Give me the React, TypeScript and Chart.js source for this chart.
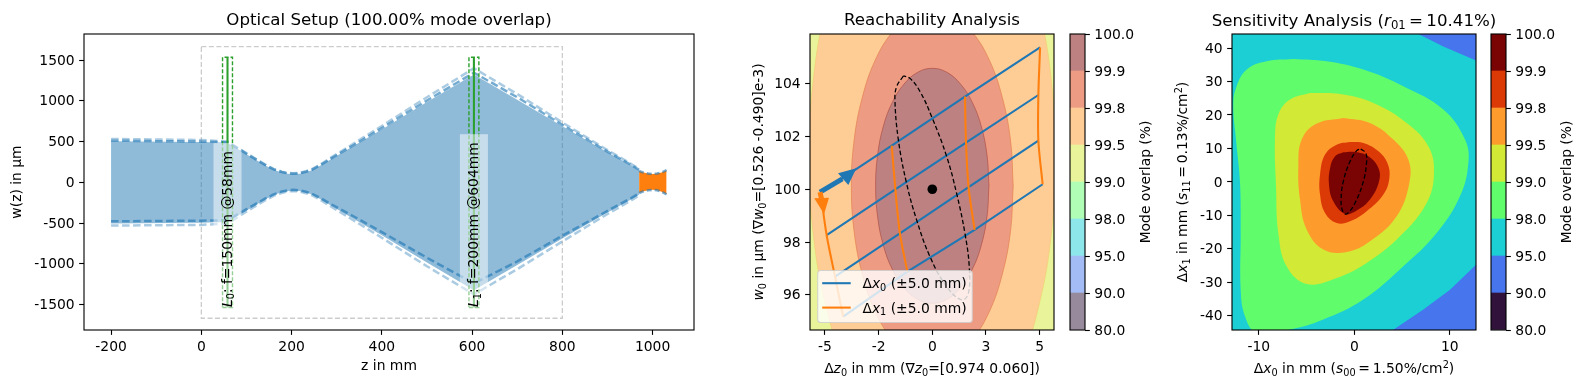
import React, { useEffect, useRef } from "react";
import { Chart, registerables } from "chart.js";

Chart.register(...registerables);

const FONT = '"DejaVu Sans"';
const TICK = 13.89;
const TITLE = 16.67;
Chart.defaults.font.family = FONT;
Chart.defaults.font.size = TICK;
Chart.defaults.color = "#000";

// ---------- Optical setup ----------
const beamZ = [-200, 0, 58, 88, 115, 141, 160, 178, 192, 204, 218, 232, 245, 265, 289, 340, 400, 500, 604, 700, 800, 900, 950, 970];
const beamW = [505, 495, 487, 385, 295, 210, 155, 122, 105, 100, 107, 125, 150, 210, 290, 455, 650, 985, 1325, 1015, 690, 370, 215, 150];
const beamNeg = [-505, -495, -487, -385, -295, -210, -155, -122, -105, -100, -107, -125, -150, -210, -290, -455, -650, -985, -1325, -1015, -690, -370, -215, -150];
const upperDark = [512, 500, 492, 392, 300, 215, 160, 127, 110, 105, 112, 130, 155, 215, 297, 465, 665, 1005, 1346, 1045, 705, 378, 222, 155];
const upperLight = [533, 520, 500, 400, 308, 222, 165, 132, 115, 112, 118, 137, 162, 225, 310, 485, 692, 1045, 1400, 1085, 735, 395, 235, 165];
const lowerDark = [-478, -470, -465, -368, -282, -200, -148, -113, -97, -92, -98, -115, -138, -195, -272, -425, -610, -925, -1240, -970, -655, -350, -200, -135];
const lowerLight = [-530, -522, -505, -400, -308, -222, -165, -130, -112, -106, -113, -133, -158, -220, -303, -475, -680, -1030, -1375, -1065, -725, -388, -230, -160];
const spotZ = [970, 980, 990, 1000, 1010, 1020, 1031];
const spotUpper = [140, 120, 108, 103, 108, 122, 150];
const spotLower = [-130, -110, -98, -92, -98, -115, -146];
const lens0 = 58;
const lens1 = 604;
const lensHalfWidth = 11;
const lensHalfHeight = 1535;
const rangeBox: number[][] = [[0, 1666], [800, 1666], [800, -1668], [0, -1668], [0, 1666]];
const setupXTicks = [-200, 0, 200, 400, 600, 800, 1000];
const setupYTicks = [-1500, -1000, -500, 0, 500, 1000, 1500];

// ---------- Colour levels ----------
const levels = [80, 90, 95, 98, 99, 99.5, 99.8, 99.9, 100];
const turbo = ["#30123b", "#4675ed", "#1bcfd4", "#61fc6c", "#d2e935", "#fe9b2d", "#db3a07", "#7a0403"];
const turboSoft = ["#988a9d", "#a3bcf6", "#8de7ea", "#b0feb6", "#e9f49a", "#fecd96", "#ed9c83", "#bd8181"];

// ---------- Reachability ----------
const reachYellow: number[][] = [[-7, 93], [7, 93], [7, 107], [-7, 107], [-7, 93]];
const reachOrange: number[][] = [[5.75, 101.22], [5.55, 104.11], [4.98, 106.81], [4.07, 109.12], [2.875, 110.89], [1.49, 112.01], [0, 112.39], [-1.49, 112.01], [-2.875, 110.89], [-4.07, 109.12], [-4.98, 106.81], [-5.55, 104.11], [-5.75, 101.22], [-5.55, 98.33], [-4.98, 95.64], [-4.07, 93.32], [-2.875, 91.55], [-1.49, 90.43], [0, 90.05], [1.49, 90.43], [2.875, 91.55], [4.07, 93.32], [4.98, 95.64], [5.55, 98.33], [5.75, 101.22]];
const reachRed: number[][] = [[3.77, 100.13], [3.64, 101.87], [3.26, 103.48], [2.67, 104.87], [1.885, 105.93], [0.98, 106.6], [0, 106.83], [-0.98, 106.6], [-1.885, 105.93], [-2.67, 104.87], [-3.26, 103.48], [-3.64, 101.87], [-3.77, 100.13], [-3.64, 98.39], [-3.26, 96.78], [-2.67, 95.39], [-1.885, 94.33], [-0.98, 93.66], [0, 93.43], [0.98, 93.66], [1.885, 94.33], [2.67, 95.39], [3.26, 96.78], [3.64, 98.39], [3.77, 100.13]];
const reachDark: number[][] = [[2.64, 100.13], [2.55, 101.28], [2.29, 102.36], [1.87, 103.28], [1.32, 103.98], [0.68, 104.43], [0, 104.58], [-0.68, 104.43], [-1.32, 103.98], [-1.87, 103.28], [-2.29, 102.36], [-2.55, 101.28], [-2.64, 100.13], [-2.55, 98.98], [-2.29, 97.9], [-1.87, 96.98], [-1.32, 96.28], [-0.68, 95.83], [0, 95.68], [0.68, 95.83], [1.32, 96.28], [1.87, 96.98], [2.29, 97.9], [2.55, 98.98], [2.64, 100.13]];
const reachEllipse: number[][] = [[-1.35, 104.29], [-1.66, 103.89], [-1.74, 103.38], [-1.58, 101.87], [-1.2, 100.23], [-0.73, 98.84], [-0.11, 97.45], [0.67, 96.31], [1.37, 95.81], [1.68, 96.06], [1.72, 97.07], [1.52, 98.33], [1.13, 99.85], [0.67, 101.24], [-0.03, 102.75], [-0.57, 103.7], [-1.04, 104.2], [-1.35, 104.29]];
const dx0Lines: number[][][] = [
  [[-5.2, 99.87], [-1.89, 101.65], [1.52, 103.51], [5.02, 105.37]],
  [[-4.92, 98.26], [-1.72, 100.0], [1.57, 101.77], [4.94, 103.57]],
  [[-4.53, 96.69], [-1.51, 98.33], [1.69, 100.08], [4.94, 101.84]],
  [[-4.15, 95.18], [-1.16, 96.88], [1.97, 98.46], [5.14, 100.19]],
];
const dx1Lines: number[][][] = [
  [[-5.2, 99.87], [-4.92, 98.26], [-4.53, 96.69], [-4.15, 95.18]],
  [[-1.89, 101.65], [-1.72, 100.0], [-1.51, 98.33], [-1.16, 96.88]],
  [[1.52, 103.51], [1.57, 101.77], [1.69, 100.08], [1.97, 98.46]],
  [[5.02, 105.37], [4.94, 103.57], [4.94, 101.84], [5.14, 100.19]],
];
const blueShaft: number[][] = [[-5.23, 99.89], [-4.19, 100.39]];
const blueHead: number[][] = [[-3.54, 100.8], [-4.39, 100.61], [-3.91, 100.16], [-3.54, 100.8]];
const orangeShaft: number[][] = [[-5.23, 99.89], [-5.15, 99.6]];
const orangeHead: number[][] = [[-5.04, 99.06], [-5.5, 99.66], [-4.81, 99.68], [-5.04, 99.06]];
const reachXTicks = [-5, -2.5, 0, 2.5, 5];
const reachXLabels = ["-5", "-2", "0", "3", "5"];
const reachYTicks = [96, 98, 100, 102, 104];

// ---------- Sensitivity ----------
const sensCyan: number[][] = [[-14, -46], [14, -46], [14, 46], [-14, 46], [-14, -46]];
const sensBlueTop: number[][] = [[6.7, 44.2], [9.32, 40.5], [12.77, 36.25], [14, 34.8], [14, 46], [6.7, 46], [6.7, 44.2]];
const sensBlueBottom: number[][] = [[4.08, -44.2], [7.23, -38.1], [10.02, -32.2], [12.77, -24.7], [14, -21], [14, -46], [4.08, -46], [4.08, -44.2]];
const sensGreen: number[][] = [[-6.39, 36.75], [-9.18, 36.06], [-11.27, 33.57], [-12.39, 28.09], [-12.67, 22.61], [-12.39, 12.65], [-11.97, -0.3], [-11.9, -15.24], [-11.9, -32.17], [-11.45, -40.14], [-10.23, -45.12], [-6.74, -44.12], [-3.25, -41.14], [0.94, -35.16], [5.13, -25.2], [8.62, -15.24], [11.06, -4.28], [11.94, 5.68], [11.59, 12.65], [9.32, 21.61], [5.13, 28.59], [0.94, 33.57], [-2.9, 36.06], [-6.39, 36.75]];
const sensYellow: number[][] = [[-4.64, 26.59], [-6.74, 24.6], [-7.96, 20.12], [-8.31, 12.65], [-8.2, -1.29], [-7.96, -15.24], [-7.09, -25.2], [-4.99, -30.48], [-1.85, -28.69], [1.29, -24.2], [4.78, -16.24], [7.57, -6.27], [8.34, 2.69], [7.75, 10.66], [5.48, 17.63], [1.99, 23.61], [-1.5, 26.29], [-4.64, 26.59]];
const sensOrange: number[][] = [[-1.15, 19.12], [-3.94, 17.43], [-5.51, 12.65], [-5.86, 4.68], [-5.69, -5.28], [-4.99, -14.24], [-3.25, -20.22], [-0.8, -20.92], [1.64, -17.73], [4.43, -10.26], [5.76, -0.3], [5.65, 6.67], [4.08, 12.65], [1.64, 17.63], [-1.15, 19.12]];
const sensRed: number[][] = [[-0.45, 11.94], [-1.85, 11.14], [-3.07, 8.16], [-3.59, 2.18], [-3.59, -3.79], [-3.07, -9.27], [-1.85, -12.26], [-0.45, -11.76], [1.29, -8.77], [3.04, -3.79], [3.67, 1.19], [3.46, 5.67], [2.52, 9.15], [0.95, 11.64], [-0.45, 11.94]];
const sensDark: number[][] = [[-1.15, 8.85], [-2.02, 7.66], [-2.54, 4.17], [-2.65, -0.81], [-2.2, -5.79], [-0.97, -9.57], [0.25, -8.57], [1.64, -5.29], [2.59, 0.19], [2.52, 4.17], [1.47, 7.66], [0.07, 8.95], [-1.15, 8.85]];
const sensEllipse: number[][] = [[0.67, 9.85], [1.19, 8.66], [1.29, 6.17], [0.95, 0.19], [0.07, -6.28], [-0.8, -9.57], [-1.22, -8.77], [-1.39, -5.29], [-1.15, 0.19], [-0.45, 6.17], [0.25, 9.35], [0.67, 9.85]];
const sensXTicks = [-10, 0, 10];
const sensYTicks = [-40, -30, -20, -10, 0, 10, 20, 30, 40];

// ---------- Rich text ----------
type Seg = { t: string; i?: boolean; sub?: boolean; sup?: boolean };
const T = (t: string): Seg => ({ t });
const I = (t: string): Seg => ({ t, i: true });
const S = (t: string): Seg => ({ t, sub: true });
const U = (t: string): Seg => ({ t, sup: true });

function segFont(s: Seg, size: number) {
  const sz = s.sub || s.sup ? size * 0.7 : size;
  return `${s.i ? "oblique " : ""}${sz}px ${FONT}`;
}
function richWidth(ctx: CanvasRenderingContext2D, segs: Seg[], size: number) {
  let w = 0;
  for (const s of segs) {
    ctx.font = segFont(s, size);
    w += ctx.measureText(s.t).width;
  }
  return w;
}
// Draws at the current origin: x is the left edge, y = 0 the vertical middle of the line.
function richAt(ctx: CanvasRenderingContext2D, segs: Seg[], size: number) {
  let x = 0;
  const base = size * 0.36;
  ctx.textBaseline = "alphabetic";
  ctx.textAlign = "left";
  ctx.fillStyle = "#000";
  for (const s of segs) {
    ctx.font = segFont(s, size);
    const dy = s.sub ? size * 0.2 : s.sup ? -size * 0.38 : 0;
    ctx.fillText(s.t, x, base + dy);
    x += ctx.measureText(s.t).width;
  }
}
function richCentered(ctx: CanvasRenderingContext2D, segs: Seg[], size: number, cx: number, cy: number, rotate = false) {
  const w = richWidth(ctx, segs, size);
  ctx.save();
  ctx.translate(cx, cy);
  if (rotate) ctx.rotate(-Math.PI / 2);
  ctx.translate(-w / 2, 0);
  richAt(ctx, segs, size);
  ctx.restore();
}

// ---------- Plugins ----------
const framePlugin = {
  id: "frame",
  afterDatasetsDraw(chart: any) {
    const { ctx, chartArea: a } = chart;
    ctx.save();
    ctx.strokeStyle = "#000";
    ctx.lineWidth = 1.11;
    ctx.strokeRect(a.left, a.top, a.right - a.left, a.bottom - a.top);
    ctx.restore();
  },
};

const labelsPlugin = (spec: { title?: Seg[]; xLabel?: Seg[]; yLabel?: Seg[]; yOff?: number }) => ({
  id: "labels",
  afterDraw(chart: any) {
    const { ctx, chartArea: a } = chart;
    const cx = (a.left + a.right) / 2;
    if (spec.title) richCentered(ctx, spec.title, TITLE, cx, 20);
    if (spec.xLabel) richCentered(ctx, spec.xLabel, TICK, cx, 368);
    if (spec.yLabel) richCentered(ctx, spec.yLabel, TICK, a.left + (spec.yOff ?? -50), 182, true);
  },
});

const lensText = [
  { z: lens0, w: -1530, segs: [I("L"), S("0"), T(": f=150mm @58mm")] },
  { z: lens1, w: -1530, segs: [I("L"), S("1"), T(": f=200mm @604mm")] },
];
const lensLabelPlugin = {
  id: "lensLabels",
  afterDatasetsDraw(chart: any) {
    const { ctx, scales } = chart;
    for (const l of lensText) {
      const px = scales.x.getPixelForValue(l.z);
      const py = scales.y.getPixelForValue(l.w);
      const w = richWidth(ctx, l.segs, TICK);
      ctx.save();
      ctx.fillStyle = "rgba(255,255,255,0.5)";
      ctx.fillRect(px - 14, py - w - 8, 28, w + 16);
      ctx.translate(px - 1, py);
      ctx.rotate(-Math.PI / 2);
      richAt(ctx, l.segs, TICK);
      ctx.restore();
    }
  },
};

const legendEntries = [
  { color: "#1f77b4", segs: [T("Δ"), I("x"), S("0"), T(" (±5.0 mm)")] },
  { color: "#ff7f0e", segs: [T("Δ"), I("x"), S("1"), T(" (±5.0 mm)")] },
];
const legendPlugin = {
  id: "reachLegend",
  afterDraw(chart: any) {
    const { ctx, chartArea: a } = chart;
    const x = a.left + 7.7;
    const y = a.bottom - 59.5;
    ctx.save();
    ctx.beginPath();
    ctx.roundRect(x, y, 154.6, 52, 3);
    ctx.fillStyle = "rgba(255,255,255,0.8)";
    ctx.fill();
    ctx.strokeStyle = "rgba(204,204,204,0.8)";
    ctx.lineWidth = 1.1;
    ctx.stroke();
    legendEntries.forEach((e, i) => {
      const ly = y + 12.7 + i * 24.4;
      ctx.strokeStyle = e.color;
      ctx.lineWidth = 2.08;
      ctx.beginPath();
      ctx.moveTo(x + 4.5, ly);
      ctx.lineTo(x + 33, ly);
      ctx.stroke();
      ctx.save();
      ctx.translate(x + 44.7, ly);
      richAt(ctx, e.segs, TICK);
      ctx.restore();
    });
    ctx.restore();
  },
};

// ---------- Dataset helpers ----------
const xy = (pairs: number[][]) => pairs.map(([x, y]) => ({ x, y }));
const zipXY = (xs: number[], ys: number[]) => xs.map((x, i) => ({ x, y: ys[i] }));
const path = (data: any[], color: string, width = 2.08, dash: number[] = [], tension = 0) => ({
  data, showLine: true, borderColor: color, borderWidth: width, borderDash: dash, tension, capBezierPoints: false,
  pointRadius: 0, fill: false,
});
const area = (pairs: number[][], color: string, tension = 0.4, edge = "transparent") => ({
  data: xy(pairs), showLine: true, borderColor: edge, borderWidth: edge === "transparent" ? 0 : 1,
  backgroundColor: color, fill: "shape", tension, capBezierPoints: false, pointRadius: 0,
});
// Paint order: first in the list is painted first.
const layered = (list: any[]) => list.map((d, i) => ({ ...d, order: list.length - i }));

function axisScale(min: number, max: number, ticks: number[], fit: any, labels?: string[], extra: any = {}, labelOffset = 0) {
  return {
    type: "linear", min, max,
    afterBuildTicks: (s: any) => { s.ticks = ticks.map((value) => ({ value })); },
    afterFit: fit,
    ticks: {
      autoSkip: false, maxRotation: 0, minRotation: 0, padding: 4.5, font: { size: TICK }, color: "#000", labelOffset,
      callback: (v: number, i: number) => (labels ? labels[i] : String(v)),
    },
    grid: { display: true, drawOnChartArea: false, drawTicks: true, tickLength: 4.86, tickColor: "#000", tickWidth: 1.11 },
    border: { display: false },
    ...extra,
  };
}
const baseOptions = (extra: any) => ({
  responsive: false, animation: false, events: [] as string[],
  ...extra,
});

// ---------- Panels ----------
const DASH = [7.5, 3.5];
const darkC = "rgba(31,119,180,0.62)";
const lightC = "rgba(31,119,180,0.38)";
const greenC = "#2ca02c";

const setupDatasets = layered([
  path(xy(rangeBox), "rgba(0,0,0,0.2)", 1.3, [5, 2.5]),
  { ...path(zipXY(beamZ, beamW), "transparent", 0), fill: "+1", backgroundColor: "rgba(31,119,180,0.5)" },
  path(zipXY(beamZ, beamNeg), "transparent", 0),
  path(zipXY(beamZ, upperLight), lightC, 2.5, DASH),
  path(zipXY(beamZ, lowerLight), lightC, 2.5, DASH),
  path(zipXY(beamZ, upperDark), darkC, 2.5, DASH),
  path(zipXY(beamZ, lowerDark), darkC, 2.5, DASH),
  { ...path(zipXY(spotZ, spotUpper), "transparent", 0), fill: "+1", backgroundColor: "#ff7f0e" },
  path(zipXY(spotZ, spotLower), "transparent", 0),
  path(zipXY(spotZ, spotUpper), "rgba(31,119,180,0.6)", 2.5, [5, 3]),
  path(zipXY(spotZ, spotLower), "rgba(31,119,180,0.6)", 2.5, [5, 3]),
  path(xy([[lens0, -lensHalfHeight], [lens0, lensHalfHeight]]), greenC, 2.08),
  path(xy([[lens1, -lensHalfHeight], [lens1, lensHalfHeight]]), greenC, 2.08),
  path(xy([[lens0 - lensHalfWidth, -lensHalfHeight], [lens0 + lensHalfWidth, -lensHalfHeight], [lens0 + lensHalfWidth, lensHalfHeight], [lens0 - lensHalfWidth, lensHalfHeight], [lens0 - lensHalfWidth, -lensHalfHeight]]), greenC, 1.4, [4, 2]),
  path(xy([[lens1 - lensHalfWidth, -lensHalfHeight], [lens1 + lensHalfWidth, -lensHalfHeight], [lens1 + lensHalfWidth, lensHalfHeight], [lens1 - lensHalfWidth, lensHalfHeight], [lens1 - lensHalfWidth, -lensHalfHeight]]), greenC, 1.4, [4, 2]),
]);

const reachDatasets = layered([
  area(reachYellow, turboSoft[4], 0),
  area(reachOrange, turboSoft[5], 0.4, "rgba(240,200,100,0.5)"),
  area(reachRed, turboSoft[6], 0.4, "rgba(225,120,70,0.6)"),
  area(reachDark, turboSoft[7], 0.4, "rgba(170,70,60,0.6)"),
  ...dx0Lines.map((l) => path(xy(l), "#1f77b4")),
  ...dx1Lines.map((l) => path(xy(l), "#ff7f0e", 2.08, [], 0.3)),
  path(xy(reachEllipse), "#000", 1.3, [4.5, 2.5], 0.4),
  { data: [{ x: 0, y: 100 }], showLine: false, pointRadius: 4.8, pointBackgroundColor: "#000", pointBorderWidth: 0 },
  path(xy(blueShaft), "#1f77b4", 5),
  area(blueHead, "#1f77b4", 0),
  path(xy(orangeShaft), "#ff7f0e", 5),
  area(orangeHead, "#ff7f0e", 0),
]);

const sensDatasets = layered([
  area(sensCyan, turbo[2], 0),
  area(sensBlueTop, turbo[1], 0),
  area(sensBlueBottom, turbo[1], 0),
  area(sensGreen, turbo[3]),
  area(sensYellow, turbo[4]),
  area(sensOrange, turbo[5]),
  area(sensRed, turbo[6]),
  area(sensDark, turbo[7]),
  path(xy(sensEllipse), "#000", 1.3, [4.5, 2.5], 0.4),
]);

const fixY = (w: number) => (s: any) => { s.width = w; };
const fixX = (h: number) => (s: any) => { s.height = h; };

const setupConfig = {
  type: "scatter",
  data: { datasets: setupDatasets },
  plugins: [lensLabelPlugin, framePlugin],
  options: baseOptions({
    layout: { padding: { left: 0, right: 26, top: 0, bottom: 0 } },
    plugins: {
      legend: { display: false }, tooltip: { enabled: false },
      title: {
        display: true, text: "Optical Setup (100.00% mode overlap)", fullSize: false, color: "#000",
        font: { size: TITLE, weight: "normal", lineHeight: 1 }, padding: { top: 12, bottom: 5.33 },
      },
    },
    scales: {
      x: axisScale(-260, 1091.7, setupXTicks, fixX(60), undefined, {
        title: { display: true, text: "z in mm", color: "#000", font: { size: TICK, lineHeight: 1.2 }, padding: { bottom: 15.5 } },
      }),
      y: axisScale(-1812, 1821, setupYTicks, fixY(84), undefined, {
        title: { display: true, text: "w(z) in µm", color: "#000", font: { size: TICK, lineHeight: 1.2 }, padding: { top: 9.5 } },
      }, 1),
    },
  }),
};

const reachConfig = {
  type: "scatter",
  data: { datasets: reachDatasets },
  plugins: [
    framePlugin, legendPlugin,
    labelsPlugin({
      xLabel: [T("Δ"), I("z"), S("0"), T(" in mm (∇"), I("z"), S("0"), T("=[0.974 0.060])")],
      yLabel: [I("w"), S("0"), T(" in µm (∇"), I("w"), S("0"), T("=[0.526 -0.490]e-3)")],
      yOff: -52,
    }),
  ],
  options: baseOptions({
    layout: { padding: { left: 0, right: 6, top: 0, bottom: 0 } },
    plugins: {
      legend: { display: false }, tooltip: { enabled: false },
      title: {
        display: true, text: "Reachability Analysis", fullSize: false, color: "#000",
        font: { size: TITLE, weight: "normal", lineHeight: 1 }, padding: { top: 12, bottom: 5.33 },
      },
    },
    scales: {
      x: axisScale(-5.696, 5.668, reachXTicks, fixX(60), reachXLabels),
      y: axisScale(94.67, 105.88, reachYTicks, fixY(80), undefined, {}, 1),
    },
  }),
};

const sensConfig = {
  type: "scatter",
  data: { datasets: sensDatasets },
  plugins: [
    framePlugin,
    labelsPlugin({
      title: [T("Sensitivity Analysis ("), I("r"), S("01"), T("\u2009=\u200910.41%)")],
      xLabel: [T("Δ"), I("x"), S("0"), T(" in mm ("), I("s"), S("00"), T("\u2009=\u20091.50%/cm"), U("2"), T(")")],
      yLabel: [T("Δ"), I("x"), S("1"), T(" in mm ("), I("s"), S("11"), T("\u2009=\u20090.13%/cm"), U("2"), T(")")],
      yOff: -50,
    }),
  ],
  options: baseOptions({
    layout: { padding: { left: 0, right: 74, top: 34, bottom: 0 } },
    plugins: { legend: { display: false }, tooltip: { enabled: false }, title: { display: false } },
    scales: {
      x: axisScale(-12.81, 12.74, sensXTicks, fixX(60)),
      y: axisScale(-44.25, 44.2, sensYTicks, fixY(82), undefined, {}, 1),
    },
  }),
};

function colorbarConfig(colors: string[], rightWidth: number) {
  const bandLabels = levels.map((l) => l.toFixed(1));
  const bandTicks = levels.map((_, i) => i);
  return {
    type: "bar",
    data: {
      labels: ["overlap"],
      datasets: colors.map((c, i) => ({
        data: [[i, i + 1]], backgroundColor: c, borderWidth: 0, barPercentage: 1, categoryPercentage: 1, grouped: false,
      })),
    },
    plugins: [
      framePlugin,
      {
        id: "cbLabel",
        afterDraw(chart: any) {
          richCentered(chart.ctx, [T("Mode overlap (%)")], TICK, chart.chartArea.right + 59.5, 182, true);
        },
      },
    ],
    options: baseOptions({
      layout: { padding: { left: 10, right: 0, top: 34, bottom: 60 } },
      plugins: { legend: { display: false }, tooltip: { enabled: false }, title: { display: false } },
      scales: {
        x: { display: false },
        y: {
          ...axisScale(0, 8, bandTicks, fixY(rightWidth), bandLabels, {}, 1),
          position: "right",
        },
      },
    }),
  };
}

const panels = [
  { left: 0, width: 720, config: setupConfig },
  { left: 730, width: 330, config: reachConfig },
  { left: 1150, width: 400, config: sensConfig },
  { left: 1060, width: 120, config: colorbarConfig(turboSoft, 95) },
  { left: 1481, width: 103, config: colorbarConfig(turbo, 78) },
];

function Panel({ left, width, config }: { left: number; width: number; config: any }) {
  const ref = useRef<HTMLCanvasElement>(null);
  useEffect(() => {
    const chart = new Chart(ref.current as HTMLCanvasElement, config);
    return () => chart.destroy();
  }, [config]);
  return <canvas ref={ref} width={width} height={390} style={{ position: "absolute", left, top: 0, width, height: 390 }} />;
}

export default function App() {
  return (
    <div style={{ position: "fixed", left: 0, top: 0, width: 1584, height: 390, overflow: "hidden", background: "#fff" }}>
      {panels.map((p, i) => (
        <Panel key={i} {...p} />
      ))}
    </div>
  );
}
